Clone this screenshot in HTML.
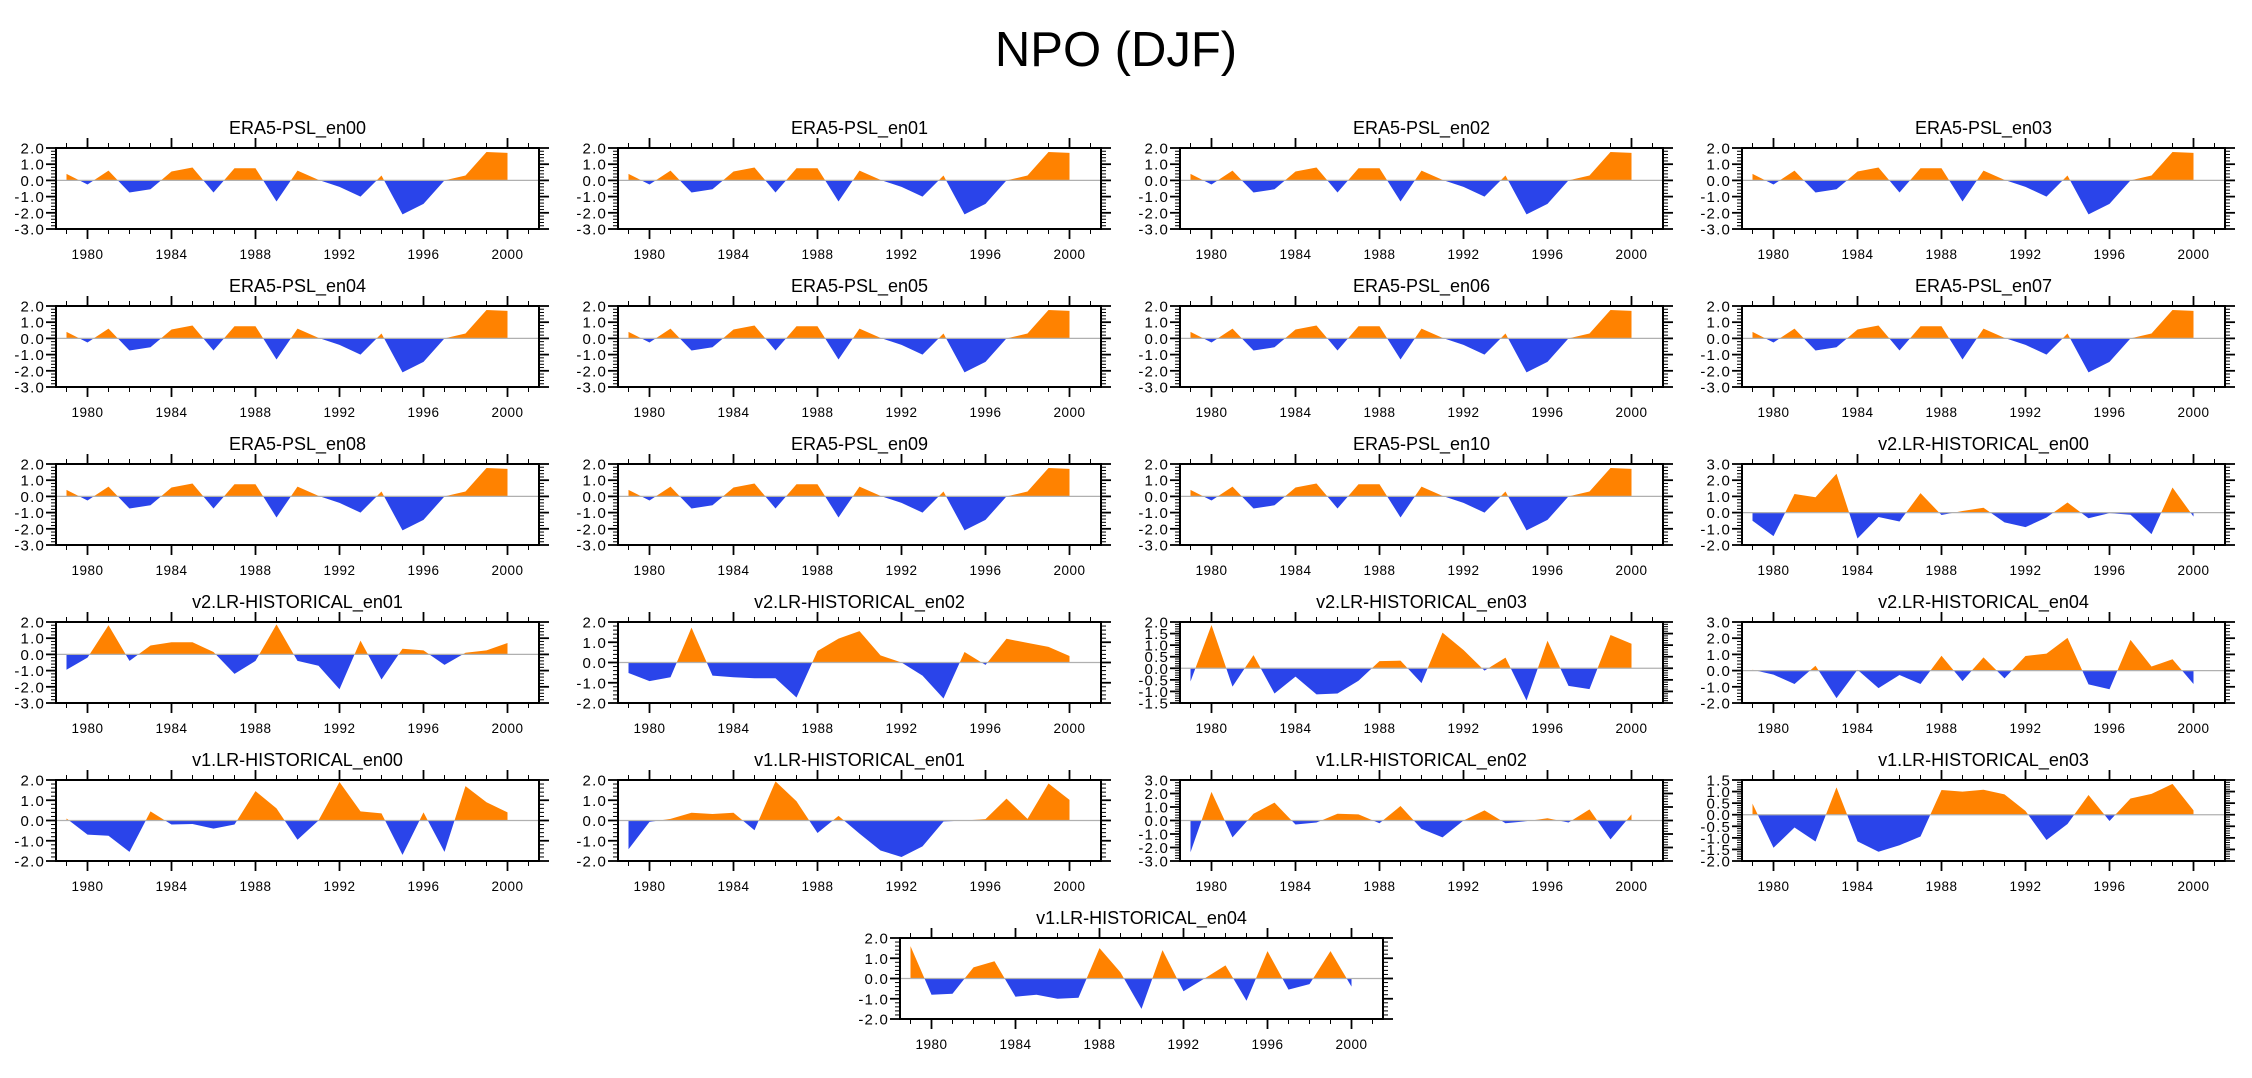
<!DOCTYPE html>
<html><head><meta charset="utf-8"><title>NPO (DJF)</title>
<style>
html,body{margin:0;padding:0;background:#fff;}
svg{display:block;font-family:"Liberation Sans",Arial,sans-serif;}
</style></head>
<body>
<svg id="chart" width="2252" height="1078" viewBox="0 0 2252 1078" xmlns="http://www.w3.org/2000/svg">
<text x="1116" y="66" font-size="49" text-anchor="middle" fill="#000">NPO (DJF)</text>
</svg>
<script>
const years = [1979,1980,1981,1982,1983,1984,1985,1986,1987,1988,1989,1990,1991,1992,1993,1994,1995,1996,1997,1998,1999,2000];
const xTickYears = [1980,1984,1988,1992,1996,2000];
const era5 = [0.4,-0.25,0.6,-0.75,-0.55,0.55,0.8,-0.75,0.75,0.75,-1.3,0.6,0.03,-0.4,-1.0,0.3,-2.1,-1.45,0.0,0.3,1.75,1.7];
const v2en00 = [-0.5,-1.45,1.15,0.95,2.4,-1.6,-0.27,-0.55,1.2,-0.15,0.1,0.3,-0.6,-0.9,-0.3,0.62,-0.35,-0.03,-0.13,-1.33,1.55,-0.25];
const v2en01 = [-0.95,-0.2,1.8,-0.4,0.55,0.75,0.75,0.15,-1.2,-0.4,1.85,-0.4,-0.7,-2.15,0.85,-1.55,0.35,0.25,-0.65,0.1,0.25,0.7];
const v2en02 = [-0.52,-0.92,-0.73,1.72,-0.65,-0.73,-0.78,-0.78,-1.73,0.57,1.18,1.55,0.35,0.0,-0.65,-1.78,0.52,-0.12,1.17,0.97,0.77,0.32];
const v2en03 = [-0.57,1.87,-0.79,0.57,-1.09,-0.36,-1.13,-1.09,-0.54,0.31,0.33,-0.64,1.54,0.79,-0.1,0.46,-1.39,1.19,-0.76,-0.9,1.44,1.06];
const v2en04 = [0.05,-0.25,-0.83,0.3,-1.7,0.05,-1.08,-0.27,-0.83,0.92,-0.65,0.82,-0.48,0.9,1.05,2.02,-0.85,-1.15,1.9,0.25,0.7,-0.83];
const v1en00 = [0.1,-0.7,-0.75,-1.55,0.45,-0.2,-0.17,-0.4,-0.2,1.45,0.6,-0.95,0.0,1.9,0.45,0.35,-1.7,0.4,-1.55,1.7,0.9,0.4];
const v1en01 = [-1.42,-0.07,0.08,0.38,0.32,0.38,-0.48,1.93,0.95,-0.62,0.23,-0.65,-1.48,-1.8,-1.28,-0.05,0.0,0.07,1.08,0.08,1.83,1.02];
const v1en02 = [-2.35,2.12,-1.25,0.5,1.32,-0.3,-0.15,0.5,0.45,-0.2,1.07,-0.62,-1.25,0.0,0.75,-0.2,-0.05,0.17,-0.15,0.82,-1.4,0.45];
const v1en03 = [0.48,-1.43,-0.55,-1.16,1.18,-1.15,-1.6,-1.32,-0.94,1.07,1.0,1.08,0.88,0.16,-1.09,-0.4,0.85,-0.27,0.7,0.9,1.33,0.19];
const v1en04 = [1.6,-0.8,-0.75,0.55,0.85,-0.9,-0.8,-1.0,-0.95,1.5,0.3,-1.5,1.4,-0.63,0.0,0.65,-1.1,1.35,-0.55,-0.28,1.35,-0.4];

const panelTitles = ["ERA5-PSL_en00","ERA5-PSL_en01","ERA5-PSL_en02","ERA5-PSL_en03","ERA5-PSL_en04","ERA5-PSL_en05","ERA5-PSL_en06","ERA5-PSL_en07","ERA5-PSL_en08","ERA5-PSL_en09","ERA5-PSL_en10","v2.LR-HISTORICAL_en00","v2.LR-HISTORICAL_en01","v2.LR-HISTORICAL_en02","v2.LR-HISTORICAL_en03","v2.LR-HISTORICAL_en04","v1.LR-HISTORICAL_en00","v1.LR-HISTORICAL_en01","v1.LR-HISTORICAL_en02","v1.LR-HISTORICAL_en03","v1.LR-HISTORICAL_en04"];
const panelSeries = [era5,era5,era5,era5,era5,era5,era5,era5,era5,era5,era5,v2en00,v2en01,v2en02,v2en03,v2en04,v1en00,v1en01,v1en02,v1en03,v1en04];
const yMaxes = [2,2,2,2,2,2,2,2,2,2,2,3,2,2,2,3,2,2,3,1.5,2];
const yMins = [-3,-3,-3,-3,-3,-3,-3,-3,-3,-3,-3,-2,-3,-2,-1.5,-2,-2,-2,-3,-2,-2];
const ySteps = [1,1,1,1,1,1,1,1,1,1,1,1,1,1,0.5,1,1,1,1,0.5,1];

const NS = "http://www.w3.org/2000/svg";
const svg = document.getElementById('chart');
const PW = 483, PH = 81;
const colLefts = [56,618,1180,1742];
const rowTops = [148,306,464,622,780,938];
const ORANGE = "#ff8200", BLUE = "#2a44ea";

function mk(tag, attrs, parent){
  const e = document.createElementNS(NS, tag);
  for (const k in attrs) e.setAttribute(k, attrs[k]);
  (parent||svg).appendChild(e);
  return e;
}

panelTitles.forEach((title, i) => {
  const left = i < 20 ? colLefts[i % 4] : 900;
  const top = rowTops[Math.floor(i / 4)];
  const series = panelSeries[i], yMin = yMins[i], yMax = yMaxes[i], step = ySteps[i];
  const xs = yr => left + (yr - 1978.5) / 23 * PW;
  const ys = v => top + (yMax - v) / (yMax - yMin) * PH;
  const g = mk('g', {});
  
  

  const t = mk('text', {x: left + PW/2, y: top - 14, 'font-size': 18, 'text-anchor': 'middle', fill: '#000'}, g);
  t.textContent = title;
  
  

  const z = ys(0);
  const cidP = 'cp' + i, cidN = 'cn' + i;
  const defs = mk('defs', {}, g);
  const c1 = mk('clipPath', {id: cidP}, defs);
  mk('rect', {x: left, y: top, width: PW, height: z - top}, c1);
  const c2 = mk('clipPath', {id: cidN}, defs);
  mk('rect', {x: left, y: z, width: PW, height: top + PH - z}, c2);
  let pts = xs(years[0]) + ',' + z + ' ';
  years.forEach((yr, k) => { pts += xs(yr) + ',' + ys(series[k]) + ' '; });
  pts += xs(years[years.length-1]) + ',' + z;
  const pos = mk('polygon', {points: pts, fill: ORANGE, 'clip-path': 'url(#' + cidP + ')'}, g);
  
  
  const neg = mk('polygon', {points: pts, fill: BLUE, 'clip-path': 'url(#' + cidN + ')'}, g);
  
  

  const zl = mk('line', {x1: left, x2: left + PW, y1: z, y2: z, stroke: '#b0b0b0', 'stroke-width': 1.2}, g);
  
  

  const fr = mk('rect', {x: left, y: top, width: PW, height: PH, fill: 'none', stroke: '#000', 'stroke-width': 2}, g);
  
  

  for (let yr = 1979; yr <= 2001; yr++) {
    const major = xTickYears.indexOf(yr) >= 0;
    const L = major ? 10 : 5, x = xs(yr);
    mk('line', {x1: x, x2: x, y1: top, y2: top - L, stroke: '#000', 'stroke-width': major ? 1.8 : 1}, g);
    mk('line', {x1: x, x2: x, y1: top + PH, y2: top + PH + L, stroke: '#000', 'stroke-width': major ? 1.8 : 1}, g);
  }
  xTickYears.forEach(yr => {
    const lb = mk('text', {x: xs(yr), y: top + PH + 30, 'font-size': 13.5, 'letter-spacing': 0.5, 'text-anchor': 'middle', fill: '#000'}, g);
    lb.textContent = yr;
    
    
  });

  const minorStep = step / 5;
  const n = Math.round((yMax - yMin) / minorStep);
  for (let k = 0; k <= n; k++) {
    const v = yMin + k * minorStep;
    const major = k % 5 === 0;
    const L = major ? 10 : 5, y = ys(v);
    mk('line', {x1: left, x2: left - L, y1: y, y2: y, stroke: '#000', 'stroke-width': major ? 1.8 : 1}, g);
    mk('line', {x1: left + PW, x2: left + PW + L, y1: y, y2: y, stroke: '#000', 'stroke-width': major ? 1.8 : 1}, g);
    if (major) {
      const lb = mk('text', {x: left - 11, y: y + 5.5, 'font-size': 15, 'letter-spacing': 1.2, 'text-anchor': 'end', fill: '#000'}, g);
      lb.textContent = v.toFixed(1);
      
      
    }
  }
});
</script>
</body></html>
